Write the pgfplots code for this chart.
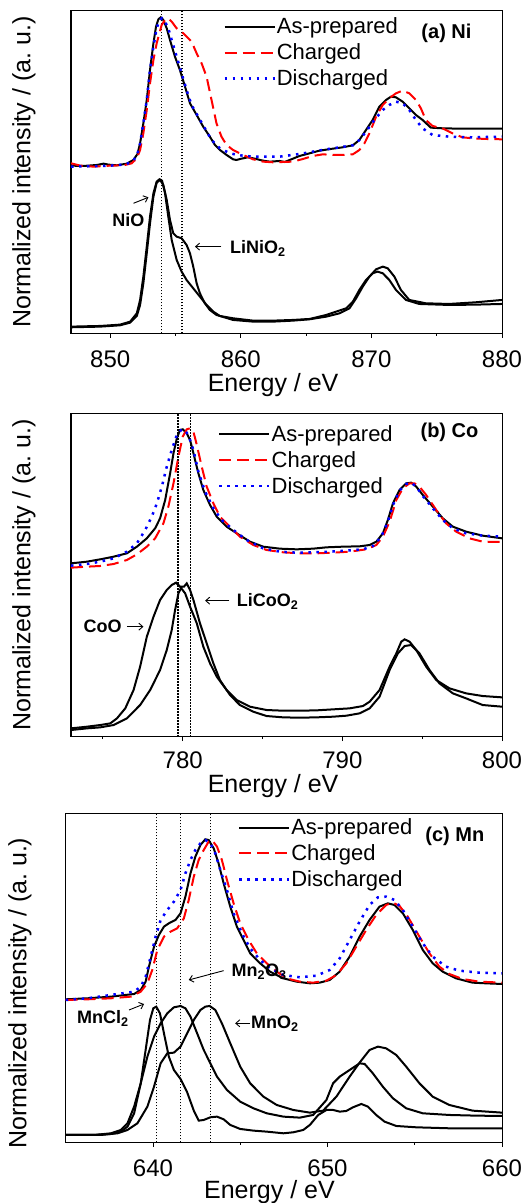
\documentclass[border=0pt]{standalone}
\usepackage{fontspec}
\setmainfont{Liberation Sans}
\usepackage{pgfplots}
\pgfplotsset{compat=1.18}
\usetikzlibrary{arrows.meta}

\pgfplotsset{
  panel/.style={
    scale only axis,
    axis line style={line width=1pt},
    xtick pos=bottom, ytick pos=left,
    xtick align=outside, ytick align=inside,
    major tick length=4.5pt, minor tick length=2.5pt,
    tick style={line width=0.9pt, black},
    ytick=\empty,
    /pgf/number format/assume math mode=true,
    /pgf/number format/1000 sep={},
    ticklabel style={font=\fontsize{24}{28}\selectfont},
    xticklabel style={anchor=center, yshift=-21pt},
    label style={font=\fontsize{25}{30}\selectfont},
    ylabel={Normalized intensity / (a.\ u.)},
    xlabel={Energy / eV},
    legend cell align=left,
    legend style={draw=none, fill=none, font=\fontsize{22}{26}\selectfont,
      inner sep=0pt, row sep=6.5pt, nodes={inner sep=1pt}},
    legend image code/.code={\draw[##1] (0pt,0pt) -- (50pt,0pt);},
  },
  asp/.style={black, line width=2pt},
  chg/.style={red, line width=2pt, dash pattern=on 12pt off 6pt},
  dis/.style={blue, line width=2.5pt, dash pattern=on 2.5pt off 5.5pt},
  low/.style={black, line width=2pt, forget plot},
  vline/.style={black, line width=1.2pt, dash pattern=on 1.4pt off 1.6pt, forget plot},
}
\tikzset{
  ann/.style={font=\bfseries\fontsize{18}{20}\selectfont, inner sep=0pt},
  tag/.style={font=\bfseries\fontsize{20}{22}\selectfont, inner sep=0pt},
  arr/.style={-{Straight Barb[length=4pt,width=7pt]}, line width=0.9pt},
}

\begin{document}
\begin{tikzpicture}
\path[use as bounding box] (0pt,0pt) rectangle (524pt,1203pt);

% ---------------- (a) Ni ----------------
\begin{axis}[panel, at={(71pt,869.7pt)}, anchor=south west,
  width=431pt, height=322.3pt,
  xmin=847, xmax=880, ymin=0, ymax=967,
  xtick={850,860,870,880}, minor xtick={855,865,875},
  minor ytick={240,462,506,550,594,638,682,726,770,814,858,902,946},
  legend style={at={(0.353,0.982)}, anchor=north west},
  xlabel style={at={(axis description cs:0.469,0)}, anchor=center, yshift=-52pt},
  ylabel style={at={(axis description cs:-0.109,0.5)}, anchor=center},
]
\addplot[vline] coordinates {(853.9,0)(853.9,967)};
\addplot[vline] coordinates {(855.5,0)(855.5,967)};

\addplot[asp] coordinates {
(847.00,503)(847.96,502)(848.98,505)(849.49,509)(849.87,506)(850.51,504)(851.27,509)(851.78,520)(852.09,538)(852.29,570)(852.54,630)(852.80,700)(853.05,790)(853.31,870)(853.51,920)(853.69,942)(853.87,948)(854.07,940)(854.33,915)(854.58,880)(854.96,830)(855.34,790)(855.73,740)(856.11,690)(856.62,655)(857.12,620)(857.63,590)(858.02,565)(858.40,550)(858.91,535)(859.41,522)(859.67,520)(860.05,524)(860.56,528)(861.07,524)(861.70,518)(862.21,515)(862.98,517)(863.36,514)(863.87,522)(864.50,532)(865.27,540)(866.03,548)(867.05,554)(867.81,558)(868.58,564)(869.08,580)(869.59,610)(870.10,640)(870.61,680)(871.12,700)(871.50,710)(871.88,708)(872.39,695)(872.90,675)(873.41,655)(873.92,640)(874.55,617)(875.45,615)(876.72,614)(878.50,614)(880,614)
};
\addlegendentry{As-prepared}
\addplot[chg] coordinates {
(847.00,510)(847.71,503)(848.73,500)(850.00,503)(851.02,504)(851.65,510)(852.04,525)(852.29,550)(852.54,600)(852.80,670)(853.05,750)(853.31,820)(853.56,870)(853.77,900)(853.94,925)(854.20,940)(854.45,945)(854.71,935)(855.09,915)(855.60,900)(856.23,875)(856.62,840)(857.00,810)(857.38,770)(857.76,700)(858.14,630)(858.52,590)(858.91,565)(859.41,550)(860.18,535)(860.94,522)(861.70,515)(862.47,513)(863.23,514)(863.99,515)(864.76,523)(865.52,532)(866.28,537)(867.05,535)(867.81,535)(868.58,537)(869.08,550)(869.47,570)(869.85,600)(870.36,650)(870.87,685)(871.37,705)(871.88,720)(872.39,728)(872.90,720)(873.41,700)(873.79,675)(874.17,640)(874.68,622)(875.45,615)(876.21,600)(876.97,588)(877.74,585)(878.75,583)(880,582)
};
\addlegendentry{Charged}
\addplot[dis] coordinates {
(847.00,500)(849.24,502)(850.51,504)(851.27,508)(851.78,518)(852.09,538)(852.29,570)(852.54,630)(852.80,700)(853.05,790)(853.31,860)(853.56,915)(853.77,940)(853.97,945)(854.20,935)(854.45,915)(854.71,880)(855.09,830)(855.47,780)(855.85,730)(856.23,685)(856.74,650)(857.25,615)(857.76,580)(858.40,555)(859.16,540)(859.92,534)(860.94,530)(861.96,530)(862.98,530)(863.74,534)(864.50,538)(865.52,545)(866.54,552)(867.56,558)(868.58,564)(869.08,580)(869.59,605)(870.23,640)(870.87,670)(871.37,685)(871.88,695)(872.39,690)(872.90,670)(873.41,640)(873.92,615)(874.68,595)(875.95,590)(877.74,588)(880,590)
};
\addlegendentry{Discharged}

% NiO reference
\addplot[low] coordinates {
(847.00,20)(849.24,22)(850.76,26)(851.53,35)(852.04,60)(852.29,100)(852.54,170)(852.80,260)(853.05,350)(853.31,420)(853.56,455)(853.77,462)(853.97,458)(854.20,420)(854.45,350)(854.71,280)(855.09,220)(855.47,185)(855.85,160)(856.36,135)(856.87,110)(857.38,85)(857.89,65)(858.40,52)(859.41,45)(860.94,38)(862.47,38)(863.99,40)(865.27,43)(866.54,55)(867.30,65)(868.07,75)(868.58,95)(869.08,130)(869.59,160)(870.10,180)(870.48,185)(870.87,180)(871.37,160)(871.88,130)(872.65,100)(873.66,88)(875.95,85)(877.99,86)(880,88)
};
% LiNiO2 reference
\addplot[low] coordinates {
(847.00,18)(849.24,20)(850.76,24)(851.53,32)(852.04,52)(852.29,85)(852.54,150)(852.80,240)(853.05,330)(853.31,410)(853.56,452)(853.82,460)(854.07,445)(854.33,400)(854.58,340)(854.83,300)(855.09,290)(855.47,285)(855.85,265)(856.11,240)(856.36,200)(856.62,150)(856.87,120)(857.25,90)(857.63,70)(858.14,55)(859.41,40)(860.94,35)(862.47,35)(863.99,38)(865.27,42)(866.54,50)(867.56,60)(868.32,75)(868.83,105)(869.34,140)(869.85,170)(870.36,192)(870.87,200)(871.25,195)(871.76,170)(872.26,130)(872.90,100)(874.17,90)(875.95,88)(877.99,93)(880,100)
};

\node[ann] at (axis cs:851.40,340) {NiO};
\draw[arr] (axis cs:851.78,390) -- (axis cs:852.93,408);
\node[ann, anchor=west] at (axis cs:859.16,255) {LiNiO\textsubscript{2}};
\draw[arr] (axis cs:858.52,260) -- (axis cs:856.49,260);
\node[tag] at (axis cs:875.75,900) {(a) Ni};
\end{axis}

% ---------------- (b) Co ----------------
\begin{axis}[panel, at={(71pt,466.3pt)}, anchor=south west,
  width=431pt, height=323.4pt,
  xmin=773, xmax=800, ymin=0, ymax=970,
  xtick={780,790,800}, minor xtick={775,785,795},
  minor ytick={240,460,505,550,593,637,680,725,770,815,860,905},
  legend style={at={(0.341,0.967)}, anchor=north west},
  xticklabel style={yshift=1.5pt},
  xlabel style={at={(axis description cs:0.469,0)}, anchor=center, yshift=-49pt},
  ylabel style={at={(axis description cs:-0.109,0.5)}, anchor=center},
]
\addplot[vline] coordinates {(779.7,0)(779.7,970)};
\addplot[vline] coordinates {(780.5,0)(780.5,970)};

\addplot[asp] coordinates {
(773.00,520)(774.00,525)(774.83,532)(775.67,540)(776.50,550)(777.13,570)(777.75,595)(778.27,625)(778.58,655)(778.90,710)(779.21,790)(779.42,850)(779.63,895)(779.83,920)(780.00,922)(780.25,910)(780.46,890)(780.67,850)(780.98,790)(781.29,740)(781.71,695)(782.13,660)(782.75,630)(783.38,610)(784.21,585)(785.04,570)(786.08,564)(787.13,562)(788.17,564)(789.00,568)(790.04,570)(791.08,571)(791.71,575)(792.13,585)(792.54,610)(792.85,650)(793.17,700)(793.58,740)(794.00,760)(794.31,762)(794.63,750)(795.04,725)(795.67,690)(796.29,655)(796.92,630)(797.75,615)(798.79,603)(800,595)
};
\addlegendentry{As-prepared}
\addplot[chg] coordinates {
(773.00,507)(774.00,510)(774.83,512)(775.67,518)(776.50,530)(777.13,547)(777.75,570)(778.27,595)(778.79,640)(779.10,690)(779.42,760)(779.73,840)(780.00,900)(780.25,922)(780.46,925)(780.67,915)(780.88,875)(781.19,810)(781.50,750)(781.92,700)(782.33,660)(782.96,630)(783.58,600)(784.42,575)(785.25,560)(786.29,553)(787.33,550)(788.38,550)(789.42,552)(790.46,555)(791.50,562)(792.13,575)(792.54,600)(792.96,645)(793.38,710)(793.79,745)(794.21,760)(794.52,760)(794.83,750)(795.25,725)(795.88,680)(796.50,640)(797.13,615)(797.96,595)(798.79,585)(800,584)
};
\addlegendentry{Charged}
\addplot[dis] coordinates {
(773.00,513)(774.00,518)(774.83,525)(775.67,535)(776.50,555)(777.13,580)(777.65,620)(778.06,660)(778.38,700)(778.69,750)(779.00,810)(779.31,860)(779.63,905)(779.94,922)(780.15,918)(780.35,905)(780.67,860)(780.98,795)(781.40,735)(781.92,685)(782.44,650)(783.17,620)(784.00,590)(785.04,565)(786.08,555)(787.13,552)(788.17,553)(789.21,555)(790.25,558)(791.29,562)(791.92,572)(792.44,600)(792.85,645)(793.17,695)(793.58,738)(794.00,758)(794.31,762)(794.63,750)(795.04,722)(795.67,685)(796.29,650)(796.92,625)(797.75,610)(798.79,603)(800,600)
};
\addlegendentry{Discharged}

% CoO reference
\addplot[low] coordinates {
(773.00,25)(774.00,30)(774.83,35)(775.46,40)(775.88,55)(776.40,85)(776.92,140)(777.33,210)(777.75,300)(778.17,360)(778.58,410)(779.00,440)(779.31,455)(779.58,462)(779.83,450)(780.15,430)(780.46,390)(780.88,340)(781.29,270)(781.71,220)(782.13,180)(782.75,140)(783.38,110)(784.21,90)(785.25,80)(786.29,78)(787.33,78)(788.38,79)(789.42,82)(790.46,85)(791.29,92)(791.71,105)(792.33,140)(792.96,210)(793.38,250)(793.69,285)(793.90,292)(794.21,285)(794.63,260)(795.25,210)(795.88,170)(796.71,145)(797.75,130)(798.79,122)(800,118)
};
% LiCoO2 reference
\addplot[low] coordinates {
(773.00,20)(774.00,25)(774.83,28)(775.67,35)(776.50,55)(777.33,95)(777.96,140)(778.58,200)(779.00,260)(779.31,320)(779.52,380)(779.73,430)(779.94,450)(780.08,450)(780.25,460)(780.46,440)(780.67,410)(781.08,340)(781.50,280)(781.92,220)(782.33,170)(782.96,125)(783.58,95)(784.42,75)(785.25,62)(786.29,58)(787.33,57)(788.38,58)(789.42,60)(790.25,63)(791.08,70)(791.71,85)(792.33,120)(792.96,200)(793.48,250)(793.90,272)(794.31,275)(794.83,250)(795.46,200)(796.08,160)(796.92,130)(797.75,115)(798.79,95)(800,90)
};

\node[ann] at (axis cs:774.98,330) {CoO};
\draw[arr] (axis cs:776.50,330) -- (axis cs:777.54,330);
\node[ann, anchor=west] at (axis cs:783.38,405) {LiCoO\textsubscript{2}};
\draw[arr] (axis cs:782.92,408) -- (axis cs:781.40,408);
\node[tag] at (axis cs:796.71,912) {(b) Co};
\end{axis}

% ---------------- (c) Mn ----------------
\begin{axis}[panel, at={(65.7pt,60.7pt)}, anchor=south west,
  width=436.3pt, height=328.3pt,
  xmin=635, xmax=660, ymin=0, ymax=985,
  xtick={640,650,660}, minor xtick={645,655},
  minor ytick={212,477,527,575,622,669,717,765,812,862,909,957},
  legend style={at={(0.394,0.989)}, anchor=north west},
  xlabel style={at={(axis description cs:0.467,0)}, anchor=center, yshift=-50pt},
  ylabel style={at={(axis description cs:-0.105,0.454)}, anchor=center},
]
\addplot[vline] coordinates {(640.2,0)(640.2,985)};
\addplot[vline] coordinates {(641.6,0)(641.6,985)};
\addplot[vline] coordinates {(643.3,0)(643.3,985)};

\addplot[asp] coordinates {
(635,429)(636.25,432)(637.59,437)(638.92,445)(639.30,457)(639.58,482)(639.77,527)(640.06,587)(640.34,622)(640.63,647)(640.91,657)(641.29,667)(641.58,687)(641.86,737)(642.15,807)(642.43,857)(642.72,892)(643.00,909)(643.19,907)(643.48,882)(643.76,837)(644.05,777)(644.43,707)(644.81,647)(645.19,607)(645.57,567)(646.14,537)(646.71,512)(647.47,492)(648.23,482)(648.99,477)(649.56,479)(650.13,487)(650.70,512)(651.27,557)(651.84,617)(652.41,667)(652.98,707)(653.46,717)(653.84,712)(654.32,687)(654.89,637)(655.46,577)(656.03,537)(656.60,512)(657.36,492)(658.31,479)(659.07,477)(660,475)
};
\addlegendentry{As-prepared}
\addplot[chg] coordinates {
(635,427)(636.25,429)(637.59,432)(638.73,437)(639.30,452)(639.68,477)(639.96,517)(640.25,577)(640.63,617)(641.01,632)(641.39,642)(641.77,672)(642.05,727)(642.34,797)(642.62,847)(642.91,877)(643.19,902)(643.38,907)(643.67,887)(643.95,847)(644.24,787)(644.62,717)(645.00,657)(645.48,607)(645.95,567)(646.52,537)(647.09,512)(647.66,492)(648.42,482)(649.18,479)(649.94,485)(650.51,502)(651.08,537)(651.65,587)(652.22,637)(652.79,682)(653.36,712)(653.75,719)(654.13,709)(654.60,677)(655.27,617)(655.84,567)(656.41,527)(656.98,505)(657.74,490)(658.69,482)(660,479)
};
\addlegendentry{Charged}
\addplot[dis] coordinates {
(635,427)(636.25,432)(637.59,442)(638.92,452)(639.30,467)(639.58,497)(639.87,557)(640.15,617)(640.44,667)(640.82,697)(641.20,722)(641.58,757)(641.86,807)(642.15,847)(642.43,877)(642.72,897)(643.00,907)(643.29,897)(643.57,867)(643.86,817)(644.24,757)(644.62,687)(645.10,627)(645.57,582)(646.14,547)(646.71,522)(647.47,502)(648.42,495)(649.37,500)(650.13,517)(650.70,552)(651.27,607)(651.84,662)(652.41,712)(652.89,735)(653.36,737)(653.84,727)(654.32,697)(654.89,647)(655.46,597)(656.03,557)(656.79,527)(657.55,515)(658.69,509)(660,507)
};
\addlegendentry{Discharged}

% MnCl2 reference
\addplot[low] coordinates {
(635,22)(636.63,22)(637.59,25)(638.16,32)(638.54,47)(638.92,87)(639.30,177)(639.58,277)(639.83,367)(640.02,402)(640.19,407)(640.40,387)(640.63,327)(640.91,257)(641.20,217)(641.58,190)(641.96,150)(642.34,95)(642.62,65)(642.91,67)(643.29,75)(643.67,77)(644.05,69)(644.43,52)(645.00,40)(645.76,35)(646.52,32)(647.47,27)(648.04,30)(648.61,37)(648.99,52)(649.47,82)(649.94,97)(650.32,97)(650.70,92)(651.08,94)(651.46,105)(651.94,115)(652.32,107)(652.79,82)(653.27,62)(653.94,49)(655.08,45)(656.98,42)(660,42)
};
% Mn2O3 reference
\addplot[low] coordinates {
(635,22)(636.63,22)(637.59,27)(638.16,37)(638.54,57)(638.92,107)(639.30,177)(639.68,257)(640.06,317)(640.44,357)(640.82,387)(641.20,405)(641.58,409)(641.86,402)(642.15,377)(642.53,327)(642.91,277)(643.29,237)(643.67,197)(644.24,157)(645.00,122)(645.76,102)(646.52,87)(647.47,77)(648.42,74)(649.18,82)(649.94,127)(650.32,177)(650.70,197)(651.27,217)(651.84,237)(652.13,235)(652.60,207)(653.17,167)(653.75,132)(654.51,102)(655.46,87)(656.98,82)(658.50,80)(660,79)
};
% MnO2 reference
\addplot[low] coordinates {
(635,22)(637.02,22)(637.97,27)(638.54,37)(639.11,57)(639.68,107)(640.06,167)(640.44,237)(640.82,267)(641.20,269)(641.58,287)(641.96,327)(642.34,367)(642.72,397)(643.00,407)(643.25,409)(643.57,397)(643.95,357)(644.43,297)(645.00,227)(645.57,177)(646.33,137)(647.09,112)(648.04,97)(648.99,89)(649.75,95)(650.51,137)(651.27,197)(651.84,239)(652.41,277)(652.89,287)(653.36,282)(653.94,262)(654.51,227)(655.27,177)(656.03,137)(656.98,112)(658.31,95)(660,89)
};

\node[ann, anchor=west] at (axis cs:644.49,512) {Mn\textsubscript{2}O\textsubscript{3}};
\draw[arr] (axis cs:644.05,515) -- (axis cs:642.05,487);
\node[ann] at (axis cs:637.13,372) {MnCl\textsubscript{2}};
\draw[arr] (axis cs:638.63,397) -- (axis cs:639.49,415);
\draw[arr] (axis cs:645.57,357) -- (axis cs:644.71,357);
\node[ann, anchor=west] at (axis cs:645.61,357) {MnO\textsubscript{2}};
\node[tag] at (axis cs:657.30,917) {(c) Mn};
\end{axis}
\end{tikzpicture}
\end{document}
